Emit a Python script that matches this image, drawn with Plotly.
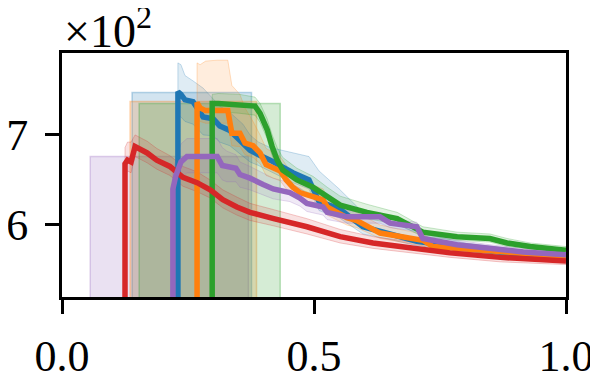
import plotly.graph_objects as go

# x positions / values (y in absolute units, axis shows x10^2)
RED_X = [0.125, 0.125, 0.13, 0.137, 0.145, 0.169, 0.188, 0.214, 0.24, 0.268, 0.294, 0.319, 0.347, 0.373, 0.42, 0.486, 0.552, 0.617, 0.671, 0.77, 0.87, 1.0]
RED_Y = [500, 668, 672, 670, 687, 680, 672, 665, 653, 647, 639, 628, 620, 614, 607, 598, 587, 580, 576, 569, 564, 560]
RED_HI = [500, 686, 692, 692, 700, 693, 685, 677, 665, 659, 650, 639, 631, 624, 617, 607, 595, 587, 583, 575, 569, 565]
RED_LO = [500, 655, 660, 658, 676, 669, 662, 655, 643, 637, 630, 619, 611, 605, 599, 590, 580, 574, 570, 564, 559, 556]

BLUE_X = [0.23, 0.23, 0.236, 0.244, 0.26, 0.28, 0.3, 0.313, 0.333, 0.359, 0.373, 0.39, 0.413, 0.458, 0.49, 0.51, 0.55, 0.597, 0.65, 0.704, 0.8, 0.9, 1.0]
BLUE_Y = [500, 748, 745, 739, 737, 720, 718, 710, 705, 691, 683, 678, 672, 658, 650, 626, 618, 598, 590, 582, 574, 568, 564]
BLUE_HI = [500, 780, 778, 766, 760, 752, 740, 732, 725, 712, 700, 692, 686, 680, 676, 660, 640, 614, 603, 592, 580, 573, 568]
BLUE_LO = [500, 722, 720, 715, 712, 700, 699, 692, 688, 676, 670, 666, 660, 647, 640, 616, 608, 590, 584, 577, 570, 565, 561]

ORANGE_X = [0.268, 0.268, 0.274, 0.285, 0.308, 0.329, 0.337, 0.353, 0.363, 0.379, 0.393, 0.405, 0.433, 0.445, 0.458, 0.472, 0.518, 0.526, 0.565, 0.585, 0.631, 0.671, 0.716, 0.736, 0.784, 0.9, 1.0]
ORANGE_Y = [500, 736, 730, 727, 727, 727, 702, 702, 691, 688, 680, 667, 660, 650, 642, 636, 628, 620, 608, 605, 591, 587, 583, 576, 574, 568, 565]
ORANGE_HI = [500, 780, 778, 782, 783, 783, 755, 745, 730, 715, 700, 685, 676, 666, 656, 650, 640, 632, 618, 614, 600, 595, 590, 583, 580, 573, 569]
ORANGE_LO = [500, 718, 715, 713, 713, 713, 688, 687, 678, 675, 668, 655, 649, 640, 633, 627, 619, 611, 600, 597, 585, 581, 577, 571, 569, 564, 562]

GREEN_X = [0.298, 0.298, 0.31, 0.353, 0.383, 0.393, 0.407, 0.417, 0.427, 0.438, 0.466, 0.498, 0.526, 0.552, 0.605, 0.665, 0.716, 0.784, 0.849, 0.883, 0.929, 1.0]
GREEN_Y = [500, 735, 735, 734, 732, 724, 706, 687, 672, 661, 650, 642, 631, 622, 614, 607, 592, 587, 585, 580, 576, 572]
GREEN_HI = [500, 745, 746, 745, 742, 735, 718, 700, 686, 675, 663, 654, 642, 632, 623, 614, 598, 592, 590, 585, 580, 576]
GREEN_LO = [500, 727, 726, 724, 722, 714, 696, 677, 663, 652, 641, 634, 623, 614, 607, 601, 587, 583, 581, 576, 573, 569]

PURPLE_X = [0.22, 0.22, 0.226, 0.236, 0.248, 0.308, 0.318, 0.327, 0.345, 0.353, 0.373, 0.399, 0.419, 0.452, 0.472, 0.486, 0.518, 0.526, 0.565, 0.631, 0.651, 0.704, 0.716, 0.784, 0.849, 0.915, 1.0]
PURPLE_Y = [500, 640, 655, 670, 676, 676, 666, 665, 663, 656, 652, 645, 640, 636, 630, 624, 620, 614, 609, 609, 602, 598, 585, 578, 574, 570, 567]
PURPLE_HI = [500, 660, 672, 690, 696, 696, 686, 682, 678, 670, 665, 658, 652, 647, 641, 635, 629, 621, 616, 614, 607, 603, 591, 583, 578, 574, 570]
PURPLE_LO = [500, 622, 637, 652, 658, 658, 650, 648, 648, 642, 639, 633, 629, 626, 621, 615, 611, 606, 602, 602, 597, 593, 580, 574, 570, 566, 564]

# shaded spans: start, end, height
RECT_NAMES = ["purple", "blue", "orange", "green"]
RECT_X0 = [0.056, 0.139, 0.135, 0.153]
RECT_X1 = [0.37, 0.376, 0.386, 0.433]
RECT_TOP = [676, 747, 737, 735]
RECT_BASE = 0

COLORS = {
    "blue": (31, 119, 180),
    "orange": (255, 127, 14),
    "green": (44, 160, 44),
    "red": (214, 39, 40),
    "purple": (148, 103, 189),
}

SERIES = [
    ("blue", BLUE_X, BLUE_Y, BLUE_LO, BLUE_HI),
    ("orange", ORANGE_X, ORANGE_Y, ORANGE_LO, ORANGE_HI),
    ("green", GREEN_X, GREEN_Y, GREEN_LO, GREEN_HI),
    ("red", RED_X, RED_Y, RED_LO, RED_HI),
    ("purple", PURPLE_X, PURPLE_Y, PURPLE_LO, PURPLE_HI),
]


def rgba(name, a):
    r, g, b = COLORS[name]
    return f"rgba({r},{g},{b},{a})"


fig = go.Figure()

for name, x0, x1, top in zip(RECT_NAMES, RECT_X0, RECT_X1, RECT_TOP):
    fig.add_trace(go.Scatter(
        x=[x0, x0, x1, x1, x0], y=[RECT_BASE, top, top, RECT_BASE, RECT_BASE],
        mode="lines", fill="toself", fillcolor=rgba(name, 0.2),
        line=dict(color=rgba(name, 0.3), width=1.5), hoverinfo="skip",
    ))

for name, xs, ys, lo, hi in SERIES:
    fig.add_trace(go.Scatter(
        x=xs + xs[::-1], y=hi + lo[::-1],
        mode="lines", fill="toself", fillcolor=rgba(name, 0.14),
        line=dict(color=rgba(name, 0.25), width=1), hoverinfo="skip",
    ))

for name, xs, ys, lo, hi in SERIES:
    fig.add_trace(go.Scatter(
        x=xs, y=ys, mode="lines",
        line=dict(color=rgba(name, 1), width=5.5),
    ))

axis = dict(
    showline=True, linecolor="black", linewidth=3, mirror=True,
    ticks="outside", ticklen=14, tickwidth=3, tickcolor="black",
    showgrid=False, zeroline=False, automargin=False,
    tickfont=dict(family="Liberation Serif", size=44, color="black"),
)

# page body has an 8px margin, so the plot box is shifted back by that much
fig.update_layout(
    width=598, height=377,
    margin=dict(l=54, r=40, t=45, b=88),
    paper_bgcolor="white", plot_bgcolor="white",
    showlegend=False,
    xaxis=dict(axis, range=[0, 1], tickvals=[0, 0.5, 1], ticktext=["0.0", "0.5", "1.0"],
               ticklabelstandoff=4),
    yaxis=dict(axis, range=[520, 791], tickvals=[600, 700], ticktext=["6", "7"],
               ticklabelstandoff=8),
    annotations=[dict(
        text="×10<sup>2</sup>", xref="paper", yref="paper", x=0, y=1,
        xanchor="left", yanchor="bottom", yshift=-6, showarrow=False,
        font=dict(family="Liberation Serif", size=46, color="black"),
    )],
)

fig.write_html("out.html")
